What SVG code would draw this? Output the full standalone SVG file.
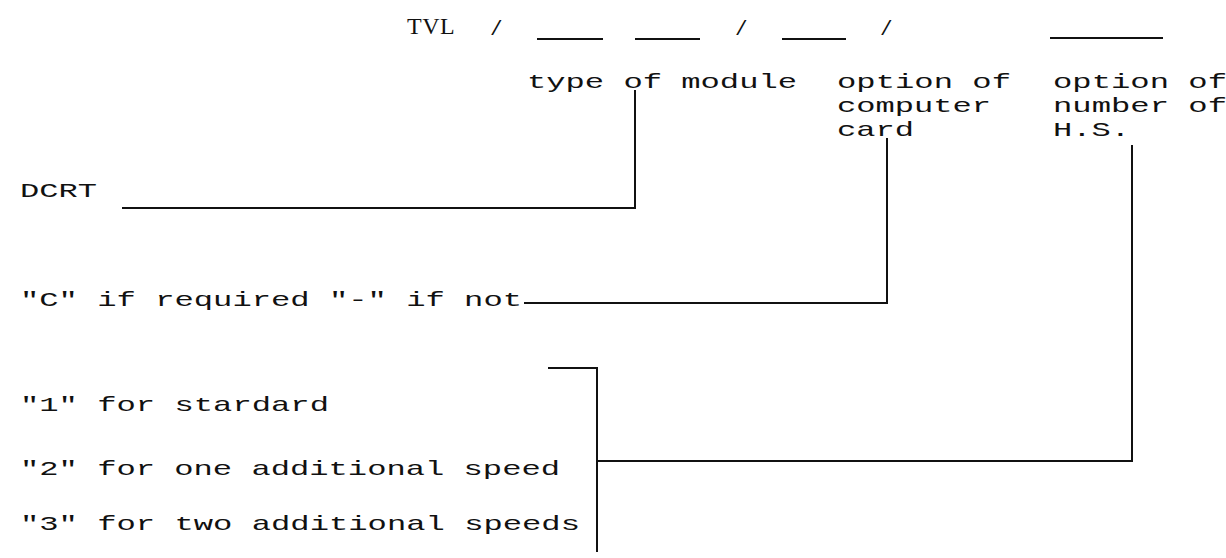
<svg xmlns="http://www.w3.org/2000/svg" width="1226" height="558" viewBox="0 0 1226 558">
<style>
text{font-family:"Liberation Mono","DejaVu Sans Mono",monospace;font-size:21px;fill:#111}
text.tvl{font-family:"Liberation Serif","DejaVu Serif",serif;font-size:24px;letter-spacing:0.5px}
.ln{stroke:#111;stroke-width:2;fill:none}
</style>
<rect width="1226" height="558" fill="#fff"/>
<g id="code">
<text class="tvl" x="407" y="34">TVL</text>
<text x="490" y="35">/</text>
<text x="735" y="35">/</text>
<text x="880" y="35">/</text>
<line class="ln" x1="537" y1="39" x2="603" y2="39"/>
<line class="ln" x1="635" y1="39" x2="700" y2="39"/>
<line class="ln" x1="782" y1="39" x2="846" y2="39"/>
<line class="ln" x1="1050" y1="38" x2="1163" y2="38"/>
</g>
<g id="type-of-module"><text x="527" y="88" textLength="270" lengthAdjust="spacingAndGlyphs">type of module</text></g>
<g id="computer-card">
<text x="837" y="88" textLength="174" lengthAdjust="spacingAndGlyphs">option of</text>
<text x="837" y="112" textLength="154" lengthAdjust="spacingAndGlyphs">computer</text>
<text x="837" y="136" textLength="77" lengthAdjust="spacingAndGlyphs">card</text>
</g>
<g id="number-hs">
<text x="1053" y="88" textLength="174" lengthAdjust="spacingAndGlyphs">option of</text>
<text x="1053" y="112" textLength="174" lengthAdjust="spacingAndGlyphs">number of</text>
<text x="1053" y="136" textLength="77" lengthAdjust="spacingAndGlyphs">H.S.</text>
</g>
<g id="dcrt"><text x="20" y="197" textLength="77" lengthAdjust="spacingAndGlyphs">DCRT</text></g>
<g id="c-option"><text x="20" y="306" textLength="502" lengthAdjust="spacingAndGlyphs">"C" if required "-" if not</text></g>
<g id="speeds">
<text x="20" y="411" textLength="309" lengthAdjust="spacingAndGlyphs">"1" for stardard</text>
<text x="20" y="475" textLength="540" lengthAdjust="spacingAndGlyphs">"2" for one additional speed</text>
<text x="20" y="530" textLength="560" lengthAdjust="spacingAndGlyphs">"3" for two additional speeds</text>
</g>
<g id="connectors">
<polyline class="ln" points="635,90 635,208 122,208"/>
<polyline class="ln" points="887,138 887,303 524,303"/>
<polyline class="ln" points="1132,145 1132,461 597,461"/>
<polyline class="ln" points="548,368 597,368 597,552"/>
</g>
</svg>
